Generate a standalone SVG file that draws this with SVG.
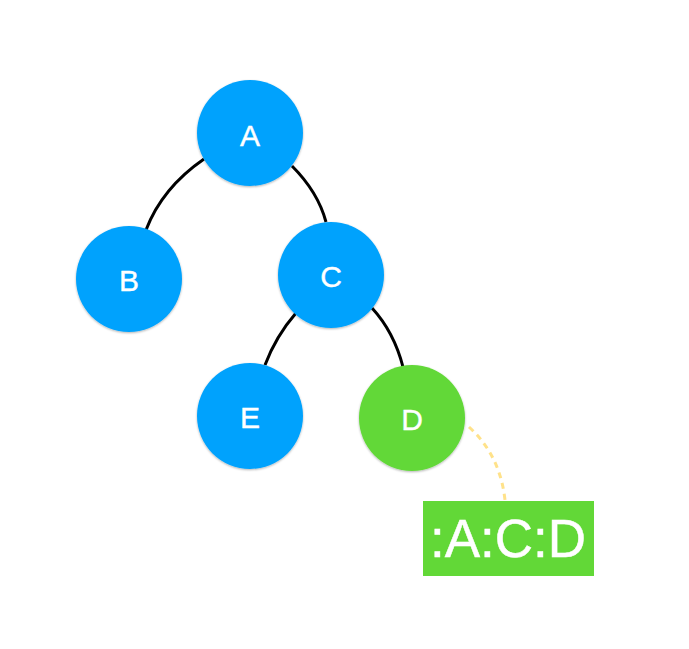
<svg xmlns="http://www.w3.org/2000/svg" width="689" height="649" viewBox="0 0 689 649">
<defs>
<filter id="sh" x="-20%" y="-20%" width="140%" height="140%">
<feDropShadow dx="0" dy="1" stdDeviation="1.2" flood-color="#000" flood-opacity="0.3"/>
</filter>
<style>
.blue{fill:#03A2FD;filter:url(#sh)}
.green{fill:#62D837;filter:url(#sh)}
.lbl{font-family:"Liberation Sans",Arial,sans-serif;font-size:30px;fill:#fff;text-anchor:middle;stroke:#fff;stroke-width:0.4}
.edge{fill:none;stroke:#000;stroke-width:3}
</style>
</defs>
<rect width="689" height="649" fill="#fff"/>
<g id="connectors">
<path class="edge" d="M204,159 Q162,188 146,230"/>
<path class="edge" d="M292,166 Q318,192 326,222"/>
<path class="edge" d="M296,313 Q276,336 265,365"/>
<path class="edge" d="M372,308 Q394,332 403,367"/>
<path d="M469,427 Q500,455 505,500" fill="none" stroke="#FFE28A" stroke-width="3" stroke-dasharray="6,5"/>
</g>
<g id="node-A"><circle class="blue" cx="250" cy="133" r="53"/><text class="lbl" x="250" y="146">A</text></g>
<g id="node-B"><circle class="blue" cx="129" cy="279" r="53"/><text class="lbl" x="129" y="291">B</text></g>
<g id="node-C"><circle class="blue" cx="331" cy="275" r="53"/><text class="lbl" x="331" y="287">C</text></g>
<g id="node-E"><circle class="blue" cx="250" cy="416" r="53"/><text class="lbl" x="250" y="428">E</text></g>
<g id="node-D"><circle class="green" cx="412" cy="418" r="53"/><text class="lbl" x="412" y="430">D</text></g>
<g id="label-path"><rect x="423" y="501" width="171" height="75" fill="#62D837"/><text x="508" y="557" font-family="'Liberation Sans',Arial,sans-serif" font-size="53" fill="#fff" stroke="#fff" stroke-width="0.5" text-anchor="middle">:A:C:D</text></g>
</svg>
